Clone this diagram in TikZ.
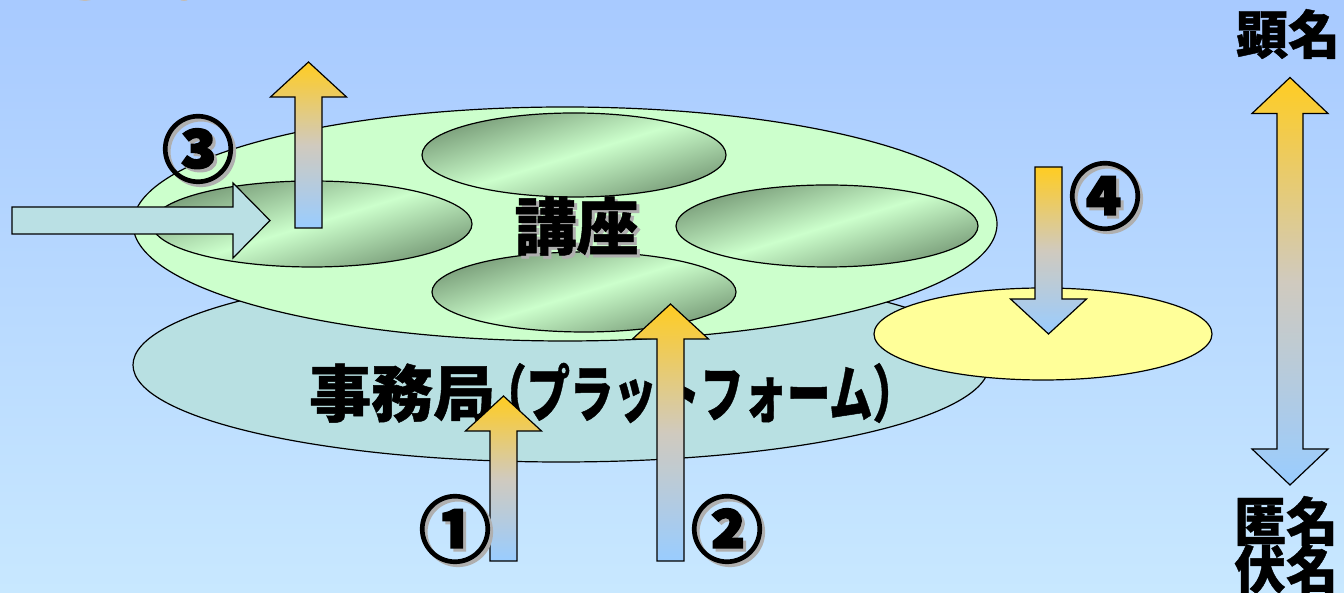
\documentclass[tikz,border=0pt]{standalone}
\usepackage{fontspec}
\usepackage{graphicx}
\newfontfamily\jp{Noto Sans CJK JP}[FakeBold=0.8]
\newfontfamily\jpnum{Noto Sans CJK JP}[FakeBold=2.5]
\definecolor{bgtop}{RGB}{168,202,255}
\definecolor{bgbot}{RGB}{200,232,255}
\definecolor{chip}{RGB}{195,188,180}
\definecolor{teal1}{RGB}{184,224,226}
\definecolor{yel}{RGB}{255,255,153}
\definecolor{grn}{RGB}{204,255,204}
\definecolor{dkg}{RGB}{112,146,112}
\definecolor{ltg}{RGB}{204,255,204}
\definecolor{arrtop}{RGB}{255,204,34}
\definecolor{arrmid}{RGB}{208,202,190}
\definecolor{arrbot}{RGB}{153,204,255}
\definecolor{arrteal}{RGB}{186,224,228}
\definecolor{shadowc}{RGB}{175,175,175}
\tikzset{
  outl/.style={draw=black, line width=1.2pt, line join=miter},
  grad/.style={outl, top color=arrtop, bottom color=arrbot, middle color=arrmid},
  ellshade/.style={top color=dkg, bottom color=dkg, middle color=ltg},
  lbl/.style={font=\jp\bfseries\fontsize{62}{62}\selectfont, inner sep=0pt},
  numlbl/.style={font=\jpnum\bfseries\fontsize{72}{72}\selectfont, inner sep=0pt},
  sidelbl/.style={font=\jp\bfseries\fontsize{52}{52}\selectfont, inner sep=0pt},
  shadowtxt/.style={text=shadowc}
}
% block arrow pointing up: x centre, bottom y, tip y
\newcommand\blockup[3]{%
  \path[grad] (#1-13.5,#2) -- (#1+13.5,#2) -- (#1+13.5,#3-35) -- (#1+38,#3-35)
    -- (#1,#3) -- (#1-38,#3-35) -- (#1-13.5,#3-35) -- cycle;}
% block arrow pointing down: x centre, top y, tip y
\newcommand\blockdown[3]{%
  \path[grad] (#1-13.5,#2) -- (#1+13.5,#2) -- (#1+13.5,#3+35) -- (#1+38,#3+35)
    -- (#1,#3) -- (#1-38,#3+35) -- (#1-13.5,#3+35) -- cycle;}
% shaded inner ellipse: cx, cy, rx, ry
\newcommand\innerell[4]{%
  \begin{scope}
    \clip (#1,#2) ellipse [x radius=#3, y radius=#4];
    \begin{scope}[transform canvas={rotate around={17:(#1,#2)}}]
      \shade[ellshade] (#1-#3-60,#2-#4-30) rectangle (#1+#3+60,#2+#4+30);
    \end{scope}
  \end{scope}
  \draw[outl] (#1,#2) ellipse [x radius=#3, y radius=#4];}
\begin{document}
\begin{tikzpicture}[x=1pt,y=1pt]
\useasboundingbox (0,0) rectangle (1344,593);
\clip (0,0) rectangle (1344,593);
\shade[top color=bgtop, bottom color=bgbot] (0,0) rectangle (1344,593);
\fill[chip] (85,601) ellipse [x radius=13, y radius=9];
\fill[chip] (184,598) ellipse [x radius=7, y radius=6];

% platform, outside pool, lecture plate
\path[outl, fill=teal1] (561,228) ellipse [x radius=428, y radius=97];
\path[outl, fill=yel] (1043,259) ellipse [x radius=169, y radius=46];
\path[outl, fill=grn] (565,369) ellipse [x radius=432, y radius=117];
\innerell{574}{438}{152}{42}
\innerell{312}{369}{160}{43}
\innerell{827}{367}{151}{41}
\innerell{584}{301}{152}{40}

% texts
\node[lbl, shadowtxt] (kouzas) at (579.5,364) {講座};
\node[lbl] (kouza) at (576.5,367) {講座};
\node[lbl, anchor=west] (jimu) at (309,200) {事務局\hspace{-12pt}\scalebox{0.7}[1]{（プラットフォーム）}};

% arrows
\path[outl, fill=arrteal] (12,359) -- (233,359) -- (233,335) -- (270,372.5)
  -- (233,410) -- (233,386) -- (12,386) -- cycle;
\blockup{308.5}{365}{531}
\blockup{503.5}{32}{197}
\blockup{670.5}{32}{289}
\blockdown{1048.5}{426}{259}
\path[grad] (1277,144) -- (1277,479.5) -- (1252,479.5) -- (1290,515.5) -- (1328,479.5)
  -- (1303,479.5) -- (1303,144) -- (1328,144) -- (1290,108) -- (1252,144) -- cycle;

% circled numbers
\node[numlbl, shadowtxt] (n3s) at (201,441) {③};
\node[numlbl] (n3) at (198,444) {③};
\node[numlbl, shadowtxt] (n1s) at (458,61) {①};
\node[numlbl] (n1) at (455,64) {①};
\node[numlbl, shadowtxt] (n2s) at (730,61) {②};
\node[numlbl] (n2) at (727,64) {②};
\node[numlbl, shadowtxt] (n4s) at (1108,394) {④};
\node[numlbl] (n4) at (1105,397) {④};

% side labels
\node[sidelbl] (ken) at (1288,559) {顕名};
\node[sidelbl] (toku) at (1286,72) {匿名};
\node[sidelbl] (fuku) at (1286,24) {伏名};
\end{tikzpicture}
\end{document}
